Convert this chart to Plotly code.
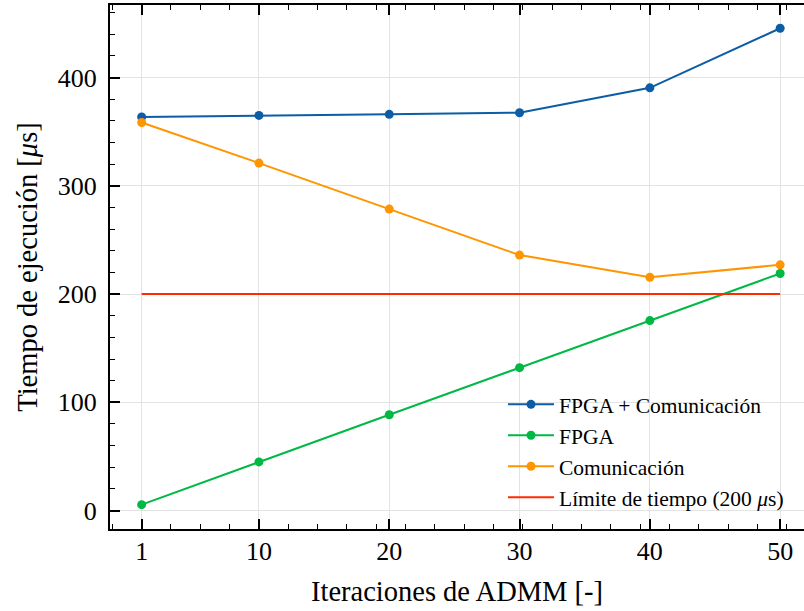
import plotly.graph_objects as go

iteraciones = [1, 10, 20, 30, 40, 50]
fpga_com = [363.5, 365.0, 366.0, 367.5, 390.5, 445.5]
fpga = [5.5, 45.0, 88.5, 132.0, 175.5, 219.0]
comunicacion = [358.5, 321.0, 278.5, 236.0, 215.5, 227.0]
limite = [200, 200, 200, 200, 200, 200]
xticks = [1, 10, 20, 30, 40, 50]
yticks = [0, 100, 200, 300, 400]

FONT = "'Liberation Serif', 'Times New Roman', Times, serif"
fig = go.Figure()
mk = dict(size=9)
fig.add_trace(go.Scatter(x=iteraciones, y=fpga_com, mode="lines+markers",
                         name="FPGA + Comunicación",
                         line=dict(color="#0C5DA5", width=2), marker=dict(color="#0C5DA5", **mk)))
fig.add_trace(go.Scatter(x=iteraciones, y=fpga, mode="lines+markers", name="FPGA",
                         line=dict(color="#00B945", width=2), marker=dict(color="#00B945", **mk)))
fig.add_trace(go.Scatter(x=iteraciones, y=comunicacion, mode="lines+markers", name="Comunicación",
                         line=dict(color="#FF9500", width=2), marker=dict(color="#FF9500", **mk)))
fig.add_trace(go.Scatter(x=iteraciones, y=limite, mode="lines",
                         name="Límite de tiempo (200 <i>μ</i>s)",
                         line=dict(color="#FF2C00", width=2)))

fig.update_layout(
    width=804, height=611,
    margin=dict(l=110, r=0, t=5, b=82),
    plot_bgcolor="white", paper_bgcolor="white",
    font=dict(family=FONT, size=26, color="black"),
    legend=dict(x=(503 - 110) / 694, xanchor="left", y=0.277, yanchor="top",
                font=dict(family=FONT, size=21.5, color="black"),
                bgcolor="rgba(0,0,0,0)", tracegroupgap=0, itemwidth=46),
    xaxis=dict(range=[-1.43, 51.83], tickvals=xticks, ticktext=[str(v) for v in xticks],
               showline=True, linecolor="black", linewidth=2, mirror="ticks",
               ticks="inside", ticklen=10, tickwidth=1.5, tickcolor="black",
               showgrid=True, gridcolor="#e3e3e3", gridwidth=1, zeroline=False,
               tickfont=dict(family=FONT, size=26), ticklabelstandoff=-2,
               minor=dict(tick0=1, dtick=2.25, ticks="inside", ticklen=5, tickwidth=1.2,
                          tickcolor="black", showgrid=False),
               title=dict(text="Iteraciones de ADMM [-]", font=dict(family=FONT, size=28.5), standoff=16)),
    yaxis=dict(range=[-17, 467], tickvals=yticks,
               showline=True, linecolor="black", linewidth=2, mirror=False,
               ticks="inside", ticklen=10, tickwidth=1.5, tickcolor="black",
               showgrid=True, gridcolor="#e3e3e3", gridwidth=1, zeroline=False,
               tickfont=dict(family=FONT, size=26), ticklabelstandoff=6,
               minor=dict(dtick=20, ticks="inside", ticklen=5, tickwidth=1.2,
                          tickcolor="black", showgrid=False),
               title=dict(text="Tiempo de ejecución [<i>μ</i>s]", font=dict(family=FONT, size=28.5), standoff=12)),
)

fig.write_html("out.html", config={"displayModeBar": False},
               post_script="document.body.style.margin='0px';document.body.style.padding='0px';")
